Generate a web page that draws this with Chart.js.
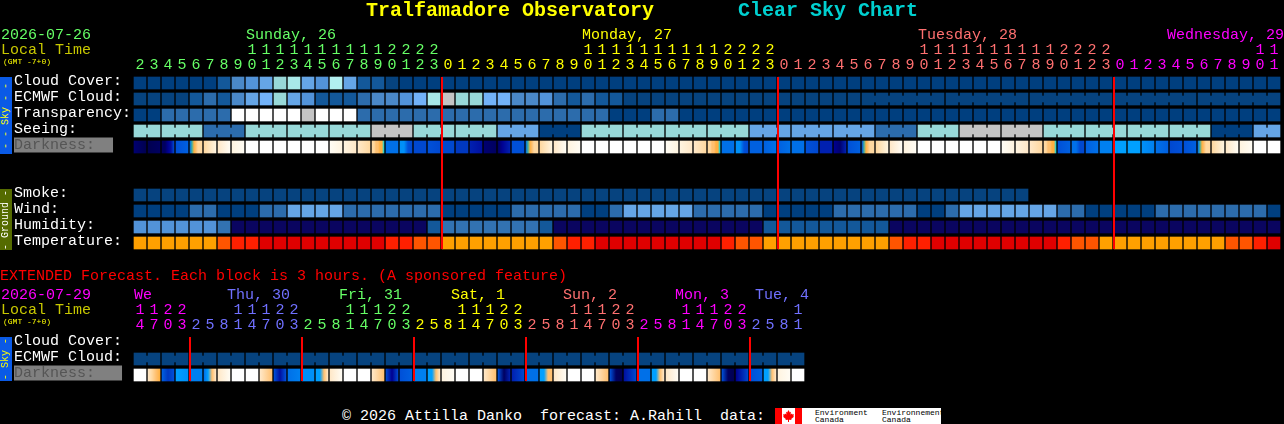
<!DOCTYPE html>
<html>
<head>
<meta charset="utf-8">
<title>Clear Sky Chart</title>
<script src="https://cdn.jsdelivr.net/npm/chart.js@4"></script>
<style>
html,body{margin:0;padding:0;background:#000;width:1284px;height:424px;overflow:hidden}
canvas{position:absolute;left:0}
.t{position:absolute;white-space:pre;font-family:"Liberation Mono",monospace;line-height:1}
.strip{position:absolute;left:0;width:12px}
.strip span{position:absolute;left:50%;top:50%;transform:translate(-50%,-50%) rotate(-90deg);white-space:pre;font:10px/1 "Liberation Mono",monospace}
</style>
</head>
<body>
<canvas id="main" width="1284" height="266" style="top:0"></canvas>
<canvas id="ext" width="1284" height="126" style="top:270px"></canvas>
<script>
/* ---------- main forecast (one block per hour) ---------- */
const hours = [2,3,4,5,6,7,8,9,10,11,12,13,14,15,16,17,18,19,20,21,22,23,
  0,1,2,3,4,5,6,7,8,9,10,11,12,13,14,15,16,17,18,19,20,21,22,23,
  0,1,2,3,4,5,6,7,8,9,10,11,12,13,14,15,16,17,18,19,20,21,22,23,
  0,1,2,3,4,5,6,7,8,9,10,11];
const midnights = [22,46,70];
const rowLabels = ['Cloud Cover:','ECMWF Cloud:','Transparency:','Seeing:','Darkness:  ','','','Smoke:','Wind:','Humidity:','Temperature:'];

const cloudCover = [
0,0,0,0,0,0,1,3,4,5, 7,8,5,4,9,5,1,1,14,0,
0,0,0,0,0,0,0,0,0,0, 0,0,0,0,0,0,0,0,0,0,
0,0,0,0,0,0,0,0,0,0, 0,0,0,0,0,0,0,0,0,0,
0,0,0,0,0,0,0,0,0,0, 0,0,0,0,0,0,0,0,0,0, 0,0];
const ecmwfCloud = [
14,14,14,14,1,2,1,3,5,6, 7,5,4,1,1,1,2,3,3,4,
6,8,10,7,7,6,6,3,3,4, 2,1,2,1,1,14,14,14,14,14,
14,14,14,14,14,14,14,14,14,14, 14,14,14,14,14,14,14,14,14,14,
14,14,14,14,14,14,14,14,14,14, 14,14,14,14,14,14,14,14,14,14, 14,14];
const ecmwfBlocks = [1,1,1,1,1,1,1,1,1,1,1,1,1,1,1,1,1,1,1,1,1,1,1,1,1,1,1,1,1,1,1,1,1,1,1,1,1,1,1,1,1,1,1,1,1,1,1,1,1,1,1,1,6,6,6,6,6];
const transparency = [
0,0,2,2,2,2,2,11,11,11, 11,11,10,11,11,11,2,2,2,2,
2,2,2,2,2,2,2,2,2,2, 2,2,2,2,0,0,0,2,2,0,
0,0,0,0,0,0,0,0,0,0, 0,0,0,0,0,0,0,0,0,0,
0,0,0,0,0,0,0,0,0,0, 0,0,0,0,0,0,0,0,0,0, 0,0];
const seeingBlocks = [2,3,3,3,3,3,3,3,3,3,3,3,3,3,3,3,3,3,3,3,3,3,3,3,3,3,3,2];
const seeingByBlock = [7,7,2,7,7,7,10,7,7,5,0,7,7,7,7,5,5,5,2,7,10,10,7,7,7,7,0,5];
const smoke = [
14,14,14,14,14,14,14,14,14,14, 14,14,14,14,14,14,14,14,14,14,
14,14,14,14,14,14,14,14,14,14, 14,14,14,14,14,14,14,14,14,14,
14,14,14,14,14,14,14,14,14,14, 14,14,14,14,14,14,14,14,14,14, 14,14,14,14];
const wind = [
0,0,0,0,2,2,0,0,0,2, 2,5,5,5,5,2,2,2,2,2,
2,2,0,0,0,0,0,2,2,2, 2,2,0,0,2,5,5,5,5,5,
2,2,2,2,2,0,0,0,0,0, 2,2,2,2,2,2,0,0,2,5,
5,5,5,5,5,5,2,2,0,0, 0,0,0,2,2,2,2,2,2,2, 2,0];
const humidity = [
4,4,4,4,4,4,13,12,12,12, 12,12,12,12,12,12,12,12,12,12,
12,1,13,13,13,13,13,13,13,1, 12,12,12,12,12,12,12,12,12,12,
12,12,12,12,12,1,1,1,1,1, 1,1,1,1,12,12,12,12,12,12,
12,12,12,12,12,12,12,12,12,12, 12,12,12,12,12,12,12,12,12,12, 12,12];
const temperature = [
0,0,0,0,0,0,1,2,2,3, 3,3,3,3,3,3,3,3,2,2,
1,1,0,0,0,0,0,0,0,0, 1,2,2,3,3,3,3,3,3,3,
3,3,2,1,1,0,0,0,0,0, 0,0,0,0,1,2,2,3,3,3,
3,3,3,3,3,3,2,1,1,0, 0,0,0,0,0,0,0,0,1,1, 2,3];
/* sky brightness level, left to right inside each block */
const darkness = [
[2,0],[0,1],[1,1,3,4,7],[8,9],[10,15,16,17,18,18,18],[18,20],[19,21],[20,21],[22],[22],
[22],[22],[22],[22],[21,20],[20,19],[19,18],[18,18,17,17,16,16,14],[10,10],[12,12,8,7],
[7,7],[8,7],[7,7],[6,6],[5,4],[2,1],[1,3,4,5],[8,8],[10,15,16,17,18,18,18],[18,20],
[19,21],[20,21],[22],[22],[22],[22],[22],[22],[21,20],[20,19],
[19,18],[18,18,17,17,16,16,14],[10,10],[12,12,8,7],[9,9],[9,10],[9,10],[10,10],[8,7],[5,5],
[3,2,5],[8,9],[8,15,16,17,18,18,18],[18,20],[19,21],[20,21],[22],[22],[22],[22],
[22],[22],[21,20],[20,19],[19,18],[18,18,17,17,16,16,14],[8,9],[10,10,7,7],[9,10],[11,11],
[13,13],[13,13],[12,11],[10,9],[7,8],[8,9],[10,15,16,17,18,18,18],[18,20],[19,21],[20,21],
[22],[22]];

/* ---------- extended forecast (one block per 3 hours) ---------- */
const extHours = [14,17,20,23,
  2,5,8,11,14,17,20,23, 2,5,8,11,14,17,20,23, 2,5,8,11,14,17,20,23,
  2,5,8,11,14,17,20,23, 2,5,8,11,14,17,20,23, 2,5,8,11];
const extMidnights = [4,12,20,28,36,44];
const extRowLabels = ['Cloud Cover:','ECMWF Cloud:','Darkness:   '];
const extEcmwf = [
14,14,14,14,14,14,14,14,14,14, 14,14,14,14,14,14,14,14,14,14,
14,14,14,14,14,14,14,14,14,14, 14,14,14,14,14,14,14,14,14,14,
14,14,14,14,14,14,14,14];
const extEcmwfBlocks = [2,2,2,2,2,2,2,2,2,2,2,2,2,2,2,2,2,2,2,2,2,2,2,2];
const extDarkness = [
[22],[19,18,17,16],[9,6,8],[13,12],[11,11],[10,13,17,19],[19,21],[22],[22],[19,17],
[8,4,8],[10,11],[12,12],[13,13,17,19],[19,21],[22],[22],[19,17],[7,3,7],[8,9],
[11,11],[13,13,17,19],[20,21],[22],[22],[19,17],[8,1,5],[5,7],[10,10],[13,13,17,17],
[19,21],[22],[22],[19,17],[8,1,0],[4,7],[10,10],[13,13,17,19],[19,21],[22],
[22],[19,17],[8,1,0],[3,7],[8,9],[13,13,17,19],[20,21],[22]];

/* ---------- colour tables ---------- */
const skyColors = ['#003f7f','#13589a','#2c6cac','#4a88c8','#5293d9','#65a5e6','#72b2f8','#98d8d8','#a8e8e8','#b2f0f0','#c4c4c4','#ffffff','#0a0560','#3272b2','#06437f'];
const tempColors = ['#ffa000','#ff5500','#ff2000','#e00000'];
const darkColors = ['#000050','#000060','#000070','#000090','#0010a0','#0020b0','#0038c0','#0048d0','#0050d8','#0060e0','#0070e8','#0080f0','#0090f8','#00a0ff','#00d8e8','#40b0a0','#ffb040','#ffc070','#ffd8a0','#ffe8c8','#fff4e0','#fffcf4','#ffffff'];
const GREEN='#66ff66', YEL='#ffff00', SAL='#ff7070', MAG='#ff00ff', BLU='#7070ff';
const mainDayColors = [GREEN,YEL,SAL,MAG];
const extDayColors = [MAG,BLU,GREEN,YEL,SAL,MAG,BLU];

const FONT = {family:'"Liberation Mono", monospace', size:15, lineHeight:1};

function expand(blocks, vals){ const out=[]; blocks.forEach((n,k)=>{ for(let j=0;j<n;j++) out.push(vals[k]); }); return out; }
const seeing = expand(seeingBlocks, seeingByBlock);

function cellRow(r, vals, palette){
  return { data: vals.map(()=>[r-0.375,r+0.375]), backgroundColor: c=>palette[vals[c.dataIndex]],
           barThickness:12, grouped:false, borderWidth:0, order:2, xAxisID:'x', yAxisID:'y' };
}
function gradRow(r, vals){
  return { data: vals.map(()=>[r-0.375,r+0.375]), grouped:false, barThickness:12, borderWidth:0, order:2, xAxisID:'x', yAxisID:'y',
    backgroundColor: c=>{
      const st=vals[c.dataIndex]; if(!st) return '#000000';
      const sc=c.chart.scales.x;
      const cx=sc?sc.getPixelForValue(c.dataIndex):NaN;
      if(!Number.isFinite(cx)) return darkColors[st[0]];
      const g=c.chart.ctx.createLinearGradient(cx-6,0,cx+6,0);
      st.forEach((v,k)=>g.addColorStop(st.length>1?k/(st.length-1):0,darkColors[v]));
      return g;
    } };
}
function bridgeRow(r, vals, palette, blocks, n){
  const d=new Array(n+1).fill(null); let c=0;
  blocks.forEach(len=>{ for(let j=1;j<len;j++) d[c+j]=[r-0.1875,r+0.1875]; c+=len; });
  return { data:d, xAxisID:'xEdge', yAxisID:'y', grouped:false, barThickness:2, borderWidth:0, order:2,
           backgroundColor: x=>palette[vals[x.dataIndex]] };
}
function midnightLines(cols, y0, y1){
  return cols.map(c=>({ type:'line', xAxisID:'xLine', yAxisID:'y', order:0, data:[{x:c,y:y0},{x:c,y:y1}],
    borderColor:'#ff0000', borderWidth:2, pointRadius:0, clip:false }));
}
function tickColor(dayColors, hrs){
  const day=[]; let d=0; hrs.forEach((h,i)=>{ if(i>0 && h<hrs[i-1]) d++; day.push(d); });
  return c=>dayColors[day[c.index]];
}
function makeChart(id, hrs, labels, datasets, dayColors, headH, padBottom, labelColorRow, padTicks){
  const n=hrs.length;
  new Chart(document.getElementById(id),{
    type:'bar',
    data:{ labels: hrs.map(h=>[h>=10?String(Math.floor(h/10)):' ', String(h%10)]), datasets },
    options:{
      responsive:false, animation:false, devicePixelRatio:1,
      layout:{padding:{left:14,right:1284-133-n*14,top:0,bottom:padBottom}},
      plugins:{legend:{display:false},tooltip:{enabled:false}},
      scales:{
        x:{ position:'top', grid:{display:false,drawTicks:false}, border:{display:false},
            afterFit:s=>{s.height=headH;},
            ticks:{font:FONT,color:tickColor(dayColors,hrs),autoSkip:false,maxRotation:0,minRotation:0,padding:padTicks} },
        xEdge:{ axis:'x', type:'category', labels:Array.from({length:n+1},(_,i)=>'e'+i), offset:false, display:false },
        xLine:{ axis:'x', type:'linear', min:-1/14, max:n-1/14, offset:false, display:false },
        y:{ type:'linear', reverse:true, min:-0.5, max:labels.length-0.5,
            grid:{display:false,drawTicks:false}, border:{display:false},
            afterBuildTicks:s=>{ s.ticks=labels.map((_,i)=>({value:i})); },
            afterFit:s=>{s.width=119;},
            ticks:{ font:FONT, autoSkip:false, crossAlign:'far', labelOffset:-2,
              callback:v=>labels[v],
              color:c=>c.index===labelColorRow?'#555555':'#ffffff',
              showLabelBackdrop:c=>c.index===labelColorRow,
              backdropColor:'#808080', backdropPadding:0 } }
      }
    }
  });
}

makeChart('main', hours, rowLabels, [
  cellRow(0,cloudCover,skyColors),
  cellRow(1,ecmwfCloud,skyColors), bridgeRow(1,ecmwfCloud,skyColors,ecmwfBlocks,82),
  cellRow(2,transparency,skyColors),
  cellRow(3,seeing,skyColors), bridgeRow(3,seeing,skyColors,seeingBlocks,82),
  gradRow(4,darkness),
  cellRow(7,smoke,skyColors),
  cellRow(8,wind,skyColors),
  cellRow(9,humidity,skyColors),
  cellRow(10,temperature,tempColors),
  ...midnightLines(midnights,-0.375,10.375)
], mainDayColors, 75, 15, 4, 2);

makeChart('ext', extHours, extRowLabels, [
  cellRow(1,extEcmwf,skyColors), bridgeRow(1,extEcmwf,skyColors,extEcmwfBlocks,48),
  gradRow(2,extDarkness),
  ...midnightLines(extMidnights,-0.375,2.375)
], extDayColors, 65, 13, 2, 2);

/* ---------- page text ---------- */
function T(x,y,s,color,size,bold){
  const e=document.createElement('div'); e.className='t'; e.textContent=s;
  e.style.cssText=`left:${x}px;top:${y-size/2}px;color:${color};font-size:${size}px;${bold?'font-weight:bold;':''}`;
  document.body.appendChild(e);
}
T(366,11,'Tralfamadore Observatory',YEL,20,true);
T(738,11,'Clear Sky Chart','#00d0d0',20,true);
T(1,35,'2026-07-26',GREEN,15);
T(1,50,'Local Time','#c8c800',15);
T(3,62,'(GMT -7+0)',YEL,8);
T(246,35,'Sunday, 26',GREEN,15);
T(582,35,'Monday, 27',YEL,15);
T(918,35,'Tuesday, 28',SAL,15);
T(1167,35,'Wednesday, 29',MAG,15);
T(0,276,'EXTENDED Forecast. Each block is 3 hours. (A sponsored feature)','#ff0000',15);
T(1,295,'2026-07-29',MAG,15);
T(1,310,'Local Time','#c8c800',15);
T(3,322,'(GMT -7+0)',YEL,8);
[[134,'We',MAG],[227,'Thu, 30',BLU],[339,'Fri, 31',GREEN],[451,'Sat, 1',YEL],[563,'Sun, 2',SAL],[675,'Mon, 3',MAG],[755,'Tue, 4',BLU]]
  .forEach(d=>T(d[0],295,d[1],d[2],15));
T(342,416,'\u00a9 2026 Attilla Danko  forecast: A.Rahill  data:','#ffffff',15);

function strip(top,h,bg,fg,txt){
  const e=document.createElement('div'); e.className='strip';
  e.style.cssText=`top:${top}px;height:${h}px;background:${bg};color:${fg}`;
  const s=document.createElement('span'); s.textContent=txt; e.appendChild(s);
  document.body.appendChild(e);
}
strip(77,77,'#0a5ae6','#ffff00','- - Sky - -');
strip(189,61,'#556b00','#ffffff','- Ground -');
strip(337,44,'#0a5ae6','#ffff00','- Sky -');

/* flag and data-provider badge */
const badge=document.createElement('div');
badge.style.cssText='position:absolute;left:775px;top:408px;width:166px;height:16px;background:#fff';
badge.innerHTML='<div style="position:absolute;left:0;top:0;width:7px;height:16px;background:#f00"></div>'+
 '<div style="position:absolute;left:20px;top:0;width:7px;height:16px;background:#f00"></div>'+
 '<svg style="position:absolute;left:8px;top:2px" width="11" height="12" viewBox="0 0 11 12"><path fill="#f00" d="M5.5 0L6.8 2.4 8 1.8 7.5 4.6 9 3.4 9.4 4.6 11 4.3 10.3 6.3 11 6.8 8.2 9 8.5 10 6 9.7 6 12 5 12 5 9.7 2.5 10 2.8 9 0 6.8 .7 6.3 0 4.3 1.6 4.6 2 3.4 3.5 4.6 3 1.8 4.2 2.4z"/></svg>';
document.body.appendChild(badge);
[[815,412.5,'Environment'],[815,420,'Canada'],[882,412.5,'Environnement'],[882,420,'Canada']]
  .forEach(d=>T(d[0],d[1],d[2],'#000000',8));
</script>
</body>
</html>
